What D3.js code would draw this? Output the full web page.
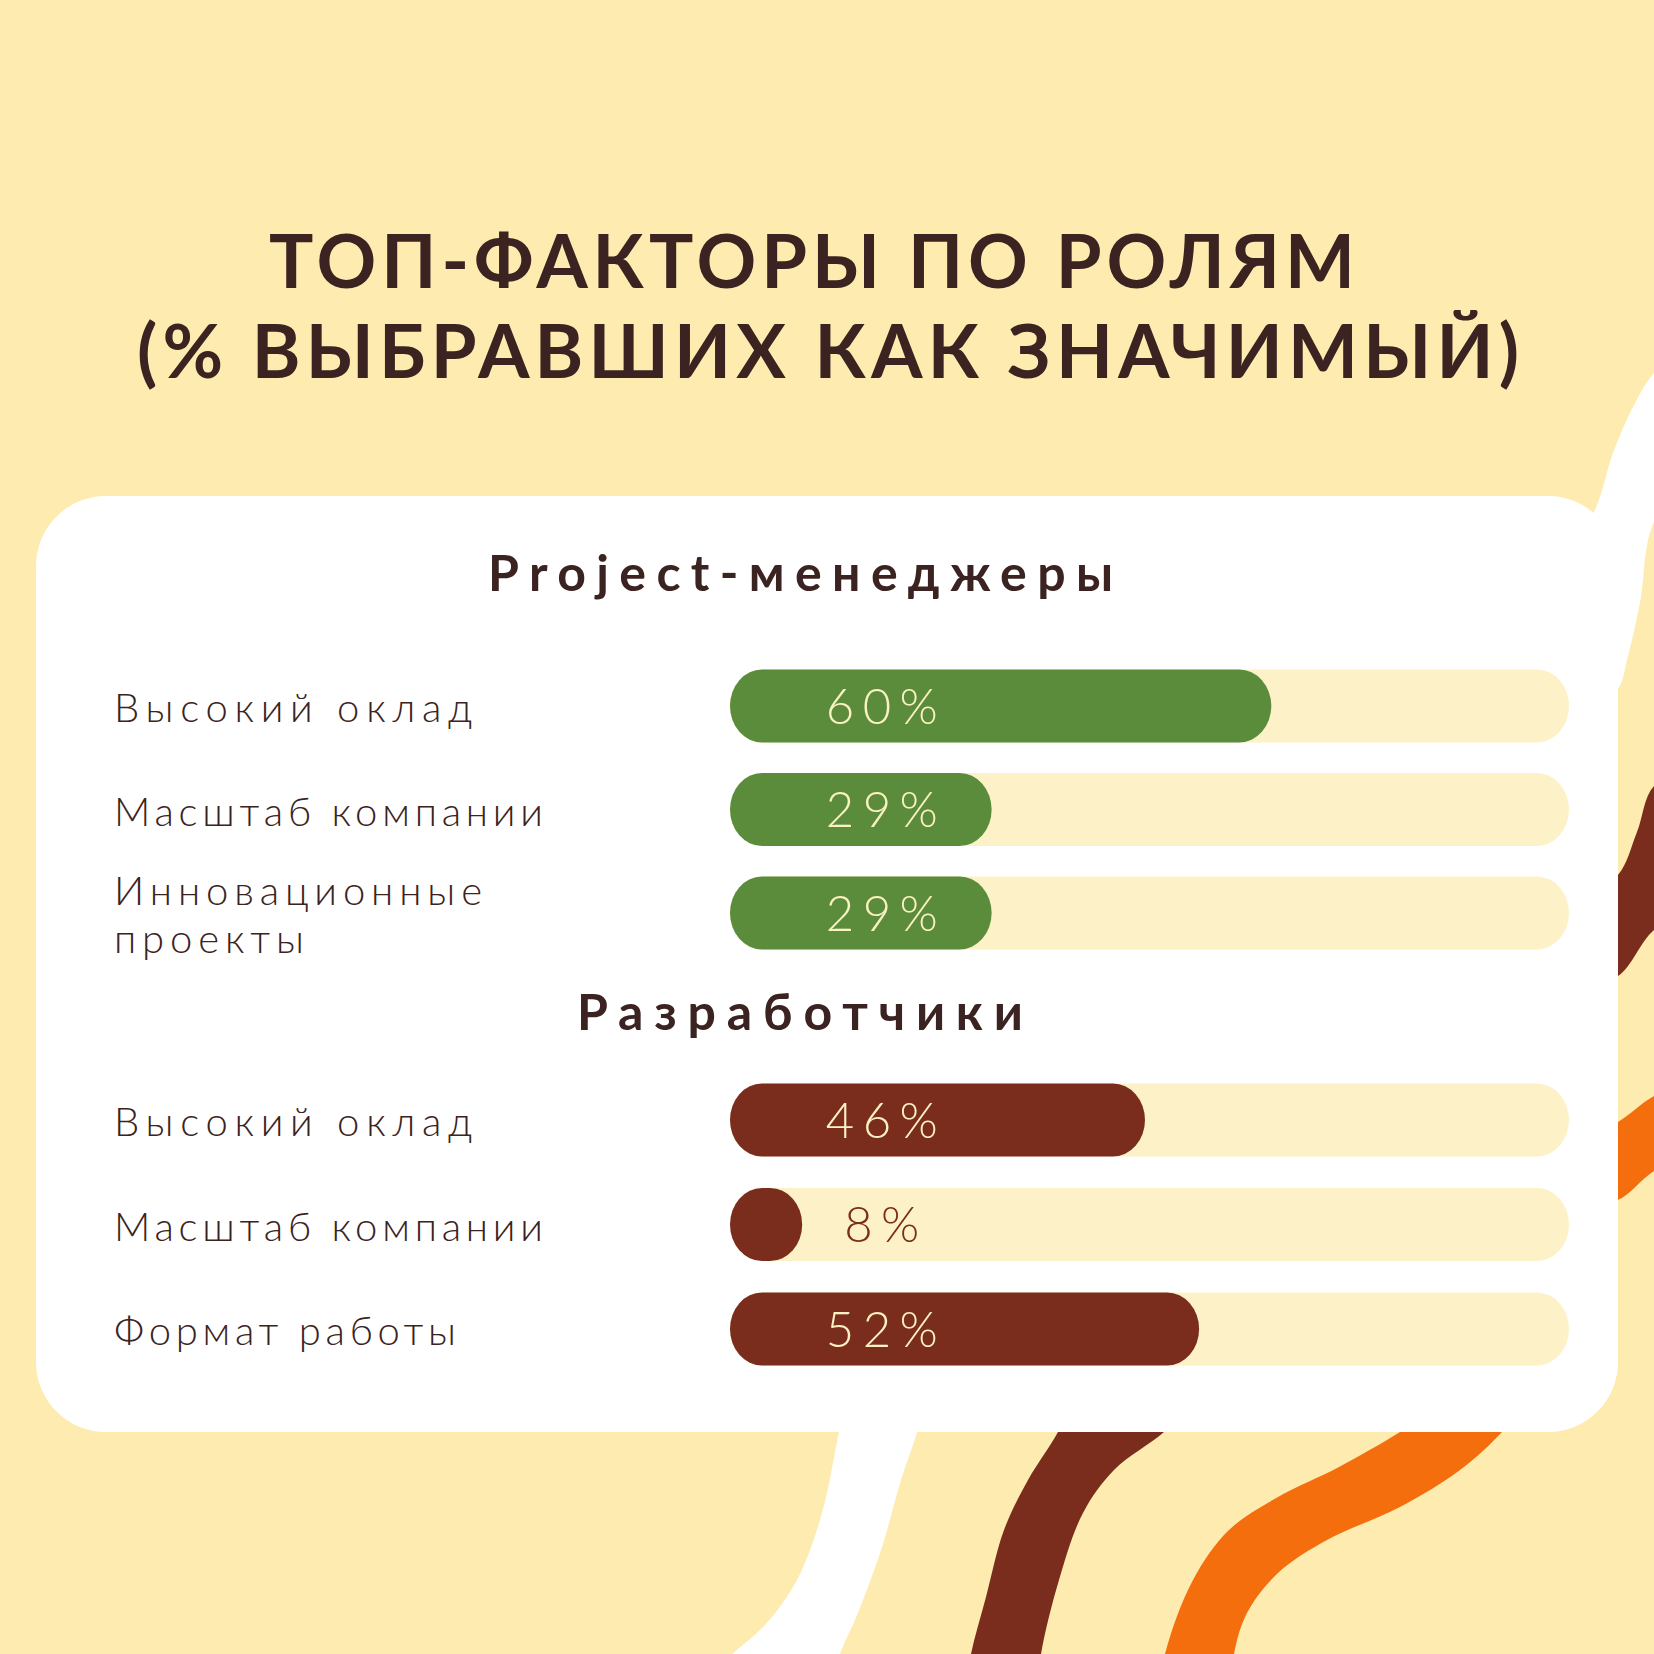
<!DOCTYPE html>
<html><head><meta charset="utf-8">
<script src="https://cdn.jsdelivr.net/npm/d3@7"></script>
<style>body{margin:0;background:#FDEBB0}svg{display:block}</style>
</head><body><svg id="c" width="1654" height="1654"></svg>
<script>
// ---- data ----
const titleLines = ["ТОП-ФАКТОРЫ ПО РОЛЯМ", "(% ВЫБРАВШИХ КАК ЗНАЧИМЫЙ)"];
const groupNames = ["Project-менеджеры", "Разработчики"];
const pmFactors = [["Высокий оклад"], ["Масштаб компании"], ["Инновационные", "проекты"]];
const pmValues = [60, 29, 29];
const devFactors = [["Высокий оклад"], ["Масштаб компании"], ["Формат работы"]];
const devValues = [46, 8, 52];

// ---- style / layout ----
const C = {
  bg: "#FDEBB0", card: "#FFFFFF", track: "#FDF2C7", ink: "#3A2321",
  green: "#5B8C3B", brown: "#7A2D1D", orange: "#F56E0E", pale: "#FBF1C2"
};
const groupColors = [C.green, C.brown];
const L = {
  card: {x: 36, y: 496, w: 1582, h: 936, r: 70},
  title: [{x: 269, w: 1086, y: 288}, {x: 137, w: 1382, y: 378}], titleSize: 74,
  heads: [{x: 488, w: 625, y: 591}, {x: 577, w: 446, y: 1030}], headSize: 50,
  rows: [[706, 913], [1120, 1329]],
  trackX: 730, trackW: 839, barH: 73,
  labelX: 114, labelSize: 40, lineGap: 48,
  labelWidths: {"Высокий оклад": 358, "Масштаб компании": 429, "Инновационные": 368, "проекты": 190, "Формат работы": 342},
  pctX: 886, pctSize: 49, pctRef: 112
};
const FONT = "Lato, 'Open Sans', 'Noto Sans', sans-serif";

const svg = d3.select("#c");
svg.append("rect").attr("width", 1654).attr("height", 1654).attr("fill", C.bg);

// ---- decorative bands (behind card) ----
const edge = d3.line().curve(d3.curveCatmullRom);
function band(a, b, fill) {
  const pa = edge(a), pb = edge(b).replace(/^M/, "L");
  svg.append("path").attr("d", pa + pb + "Z").attr("fill", fill);
}
// white band
band([[1700,335],[1654,373],[1633,407],[1613,453],[1597,505],[1570,560]],
     [[1580,720],[1618,689],[1627,660],[1640,603],[1654,522],[1700,470]], "#FFFFFF");
band([[846,1400],[839,1432],[822,1513],[797,1580],[765,1625],[730,1656],[705,1680]],
     [[828,1695],[840,1654],[858,1613],[882,1547],[901,1480],[917,1432],[924,1400]], "#FFFFFF");
// brown band
band([[1700,765],[1654,786],[1637,832],[1618,875],[1580,900]],
     [[1580,985],[1618,976],[1654,930],[1700,905]], C.brown);
band([[1072,1400],[1058,1432],[1028,1480],[1004,1530],[986,1597],[971,1654],[964,1700]],
     [[1036,1700],[1041,1654],[1059,1580],[1083,1513],[1114,1470],[1164,1432],[1195,1400]], C.brown);
// orange band
band([[1700,1078],[1654,1096],[1618,1122],[1580,1140]],
     [[1580,1205],[1618,1200],[1654,1171],[1700,1150]], C.orange);
band([[1440,1405],[1400,1432],[1339,1467],[1278,1497],[1229,1530],[1193,1580],[1165,1654],[1158,1700]],
     [[1230,1700],[1234,1654],[1247,1613],[1278,1573],[1327,1540],[1400,1507],[1460,1470],[1502,1432],[1522,1405]], C.orange);

// ---- card ----
svg.append("rect").attr("x", L.card.x).attr("y", L.card.y).attr("width", L.card.w).attr("height", L.card.h)
  .attr("rx", L.card.r).attr("fill", C.card);

// ---- text helpers ----
function natural(node) { node.setAttribute("letter-spacing", 0); return node.getComputedTextLength(); }
function fitTo(node, width) {
  const n = node.textContent.length;
  const w = natural(node);
  const ls = (width - w) / (n - 1);
  node.setAttribute("letter-spacing", ls);
  return ls;
}

// ---- title ----
titleLines.forEach((t, i) => {
  const el = svg.append("text").attr("x", L.title[i].x).attr("y", L.title[i].y)
    .attr("font-family", FONT).attr("font-weight", 700).attr("font-size", L.titleSize)
    .attr("fill", C.ink).text(t);
  fitTo(el.node(), L.title[i].w);
});

// ---- bars ----
const x = d3.scaleLinear().domain([0, 93]).range([0, L.trackW]);
const groups = [{factors: pmFactors, values: pmValues}, {factors: devFactors, values: devValues}];

// calibrate pct spacing
const probe = svg.append("text").attr("font-family", FONT).attr("font-weight", 300)
  .attr("font-size", L.pctSize).text(pmValues[0] + "%");
const pctLS = fitTo(probe.node(), L.pctRef);
probe.remove();

groups.forEach((g, gi) => {
  const y = d3.scalePoint().domain(d3.range(g.values.length)).range(L.rows[gi]);
  const head = svg.append("text").attr("x", L.heads[gi].x).attr("y", L.heads[gi].y)
    .attr("font-family", FONT).attr("font-weight", 700).attr("font-size", L.headSize)
    .attr("fill", C.ink).text(groupNames[gi]);
  fitTo(head.node(), L.heads[gi].w);

  const rows = svg.append("g").selectAll("g").data(g.values).join("g")
    .attr("transform", (d, i) => `translate(0,${y(i)})`);
  rows.append("rect").attr("x", L.trackX).attr("y", -L.barH / 2)
    .attr("width", L.trackW).attr("height", L.barH)
    .attr("rx", 32).attr("ry", L.barH / 2).attr("fill", C.track);
  rows.append("rect").attr("x", L.trackX).attr("y", -L.barH / 2)
    .attr("width", d => x(d)).attr("height", L.barH)
    .attr("rx", d => Math.min(32, x(d) / 2)).attr("ry", L.barH / 2).attr("fill", groupColors[gi]);
  rows.append("text").attr("x", L.pctX).attr("y", 0).attr("dy", "0.36em")
    .attr("text-anchor", "middle").attr("font-family", FONT).attr("font-weight", 300)
    .attr("font-size", L.pctSize).attr("letter-spacing", pctLS)
    .attr("fill", d => x(d) > 150 ? C.pale : groupColors[gi])
    .text(d => d + "%");
  rows.each(function(d, i) {
    const lines = g.factors[i];
    lines.forEach((ln, k) => {
      const t = d3.select(this).append("text").attr("font-family", FONT).attr("font-weight", 300)
        .attr("font-size", L.labelSize).attr("fill", C.ink)
        .attr("x", L.labelX)
        .attr("y", (k - (lines.length - 1) / 2) * L.lineGap)
        .attr("dy", "0.4em").text(ln);
      fitTo(t.node(), L.labelWidths[ln]);
    });
  });
});
</script>
</body></html>
